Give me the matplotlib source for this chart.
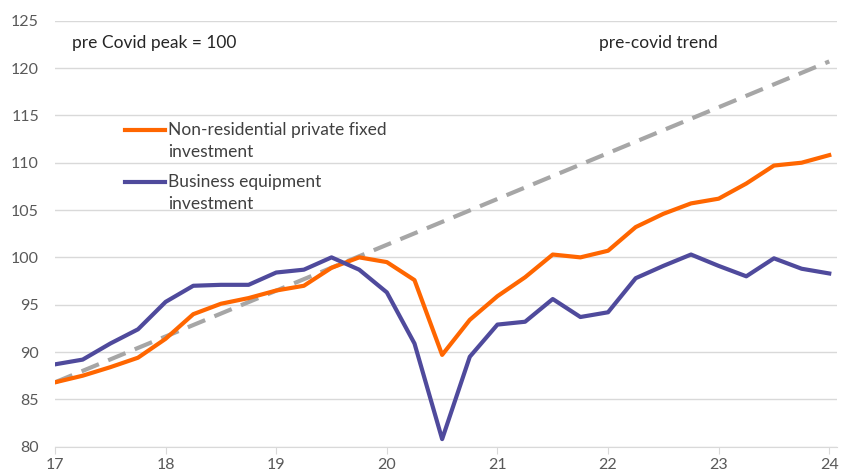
import matplotlib
matplotlib.use("Agg")
import matplotlib.pyplot as plt
import numpy as np

# dados trimestrais, 17Q1 .. 24Q1, pico pre-covid = 100
anos = 17 + np.arange(29) / 4

nao_residencial = [86.8, 87.5, 88.4, 89.4, 91.4, 94.0, 95.1, 95.7, 96.5, 97.0,
                   98.9, 100.0, 99.5, 97.6, 89.7, 93.4, 95.9, 97.9, 100.3, 100.0,
                   100.7, 103.2, 104.6, 105.7, 106.2, 107.8, 109.7, 110.0, 110.8]

equipamento = [88.7, 89.2, 90.9, 92.4, 95.3, 97.0, 97.1, 97.1, 98.4, 98.7,
               100.0, 98.7, 96.3, 90.9, 80.8, 89.5, 92.9, 93.2, 95.6, 93.7,
               94.2, 97.8, 99.1, 100.3, 99.1, 98.0, 99.9, 98.8, 98.3]

# tendencia pre-covid (reta)
tendencia_x = [17, 24]
tendencia_y = [86.8, 120.7]

rotulos_x = ["17", "18", "19", "20", "21", "22", "23", "24"]
ticks_y = [80, 85, 90, 95, 100, 105, 110, 115, 120, 125]

plt.rcParams['font.family'] = ['Lato', 'DejaVu Sans']

fig = plt.figure(figsize=(8.44, 4.74), dpi=100)
ax = fig.add_axes([0.0652, 0.0576, 0.9265, 0.8987])

ax.plot(tendencia_x, tendencia_y, color='#A6A6A6', linewidth=3, linestyle=(0, (4.5, 2.4)), zorder=2)
ax.plot(anos, nao_residencial, color='#FF6600', linewidth=3, label='Non-residential private fixed\ninvestment', zorder=3)
ax.plot(anos, equipamento, color='#4F4A9C', linewidth=3, label='Business equipment\ninvestment', zorder=3)

ax.set_xlim(17, 24.07)
ax.set_ylim(80, 125)
ax.set_yticks(ticks_y)
ax.set_xticks(range(17, 25))
ax.set_xticklabels(rotulos_x)
ax.grid(axis='y', color='#D9D9D9', linewidth=1)
ax.set_axisbelow(True)

for lado in ['left', 'right', 'top']:
    ax.spines[lado].set_visible(False)
ax.spines['bottom'].set_color('#D9D9D9')
ax.tick_params(axis='y', length=0, pad=11.5, labelsize=11.5, labelcolor='#595959')
ax.tick_params(axis='x', length=5, color='#D9D9D9', pad=3, labelsize=11.5, labelcolor='#595959')

ax.text(0.0217, 0.947, 'pre Covid peak = 100', transform=ax.transAxes, fontsize=12.5, color='#262626', va='center')
ax.text(0.696, 0.947, 'pre-covid trend', transform=ax.transAxes, fontsize=12.5, color='#262626', va='center')

leg = ax.legend(loc='upper left', bbox_to_anchor=(0.0895, 0.763), frameon=False, fontsize=12.5,
                borderpad=0, borderaxespad=0, handlelength=2.3, handletextpad=0.2,
                labelspacing=0.8, labelcolor='#404040')
for t in leg.get_texts():
    t.set_linespacing(1.47)
# chave da legenda alinhada com a primeira linha do texto (como no Excel)
for linha in leg.get_lines():
    linha.set_ydata(np.asarray(linha.get_ydata()) + 8)

fig.savefig('out.png', dpi=100)
